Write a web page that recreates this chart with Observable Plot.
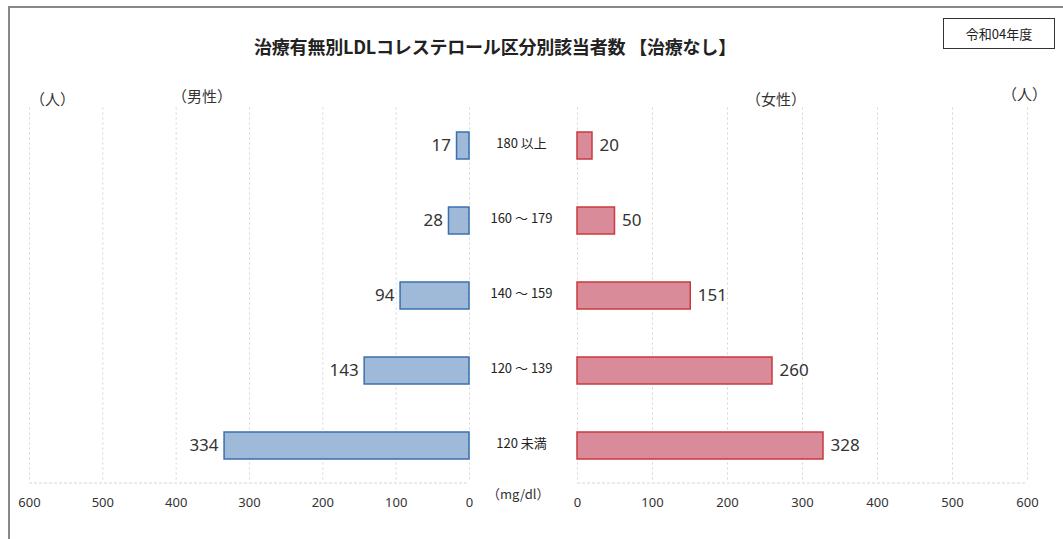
<!DOCTYPE html>
<html>
<head>
<meta charset="utf-8">
<script src="https://cdn.jsdelivr.net/npm/d3@7"></script>
<script src="https://cdn.jsdelivr.net/npm/@observablehq/plot@0.6"></script>
<style>
  html, body { margin: 0; padding: 0; background: #ffffff; }
  body { width: 1063px; height: 539px; position: relative; overflow: hidden;
         font-family: "Noto Sans CJK JP", "Noto Sans", sans-serif; color: #222; }
  .abs { position: absolute; white-space: nowrap; }
  #frame { position: absolute; left: 8px; top: 6px; width: 1100px; height: 600px;
           border-top: 2px solid #888; border-left: 2px solid #888; }
  #title { left: 0; width: 990px; top: 33px; text-align: center; font-size: 18px; font-weight: bold; color: #222; letter-spacing: -0.2px; }
  #year { left: 943px; top: 18px; width: 110px; height: 29px; border: 1.5px solid #333;
          font-size: 13px; text-align: center; line-height: 29px; background: #fff; }
  .lbl { font-size: 15px; color: #333; }
  #chart-left, #chart-right { position: absolute; top: 0; }
</style>
</head>
<body>
<div id="frame"></div>
<div id="title" class="abs">治療有無別LDLコレステロール区分別該当者数 【治療なし】</div>
<div id="year" class="abs">令和04年度</div>
<div class="abs lbl" style="left:30px; top:88px;">（人）</div>
<div class="abs lbl" style="left:172px; top:85px;">（男性）</div>
<div class="abs lbl" style="left:746px; top:88px;">（女性）</div>
<div class="abs lbl" style="left:1002px; top:83px;">（人）</div>
<div class="abs lbl" style="left:487px; top:484px; font-size:13px;">（mg/dl）</div>
<div id="chart-left"></div>
<div id="chart-right"></div>
<script>
const categories = ["180 以上", "160 ～ 179", "140 ～ 159", "120 ～ 139", "120 未満"];
const male = [17, 28, 94, 143, 334];
const female = [20, 50, 151, 260, 328];
const ticks = [0, 100, 200, 300, 400, 500, 600];

const maleData = categories.map((c, i) => ({cat: c, value: male[i]}));
const femaleData = categories.map((c, i) => ({cat: c, value: female[i]}));

const font = "'Noto Sans CJK JP', 'Noto Sans', sans-serif";
const numFont = "'Noto Sans', 'Open Sans', sans-serif";
const H = 539;
const mTop = 107.5, mBottom = H - 482.5;

const yScale = {domain: categories, paddingInner: 0.64, paddingOuter: 0.32, axis: null};
const gridStyle = {stroke: "#d4d4d4", strokeOpacity: 1, strokeDasharray: "2,3", strokeWidth: 1};

const left = Plot.plot({
  width: 560, height: H,
  marginLeft: 29, marginRight: 91, marginTop: mTop, marginBottom: mBottom,
  style: {fontFamily: font, background: "transparent", overflow: "visible"},
  x: {domain: [0, 600], reverse: true, ticks: ticks, label: null},
  y: yScale,
  marks: [
    Plot.gridX(ticks, gridStyle),
    Plot.frame({anchor: "bottom", ...gridStyle}),
    Plot.axisX({ticks: ticks, tickSize: 0, tickPadding: 15, fontSize: 13, fontFamily: numFont, fill: "#333", label: null}),
    Plot.barX(maleData, {x1: 0, x2: "value", y: "cat", fill: "#9fb9d8", stroke: "#3b70ae", strokeWidth: 1.5}),
    Plot.text(maleData, {x: "value", y: "cat", text: d => String(d.value), textAnchor: "end", dx: -6, fontSize: 17, fontFamily: numFont, fontWeight: 400, fill: "#333"}),
    Plot.text(maleData, {x: 0, y: "cat", text: "cat", textAnchor: "middle", dx: 52, dy: -2, fontSize: 13, fill: "#222"})
  ]
});
document.getElementById("chart-left").style.left = "0px";
document.getElementById("chart-left").appendChild(left);

const right = Plot.plot({
  width: 523, height: H,
  marginLeft: 37, marginRight: 36, marginTop: mTop, marginBottom: mBottom,
  style: {fontFamily: font, background: "transparent", overflow: "visible"},
  x: {domain: [0, 600], ticks: ticks, label: null},
  y: yScale,
  marks: [
    Plot.gridX(ticks, gridStyle),
    Plot.frame({anchor: "bottom", ...gridStyle}),
    Plot.axisX({ticks: ticks, tickSize: 0, tickPadding: 15, fontSize: 13, fontFamily: numFont, fill: "#333", label: null}),
    Plot.barX(femaleData, {x1: 0, x2: "value", y: "cat", fill: "#da8b9a", stroke: "#c93a3c", strokeWidth: 1.5}),
    Plot.text(femaleData, {x: "value", y: "cat", text: d => String(d.value), textAnchor: "start", dx: 7, fontSize: 17, fontFamily: numFont, fontWeight: 400, fill: "#333"})
  ]
});
document.getElementById("chart-right").style.left = "540px";
document.getElementById("chart-right").appendChild(right);
</script>
</body>
</html>
